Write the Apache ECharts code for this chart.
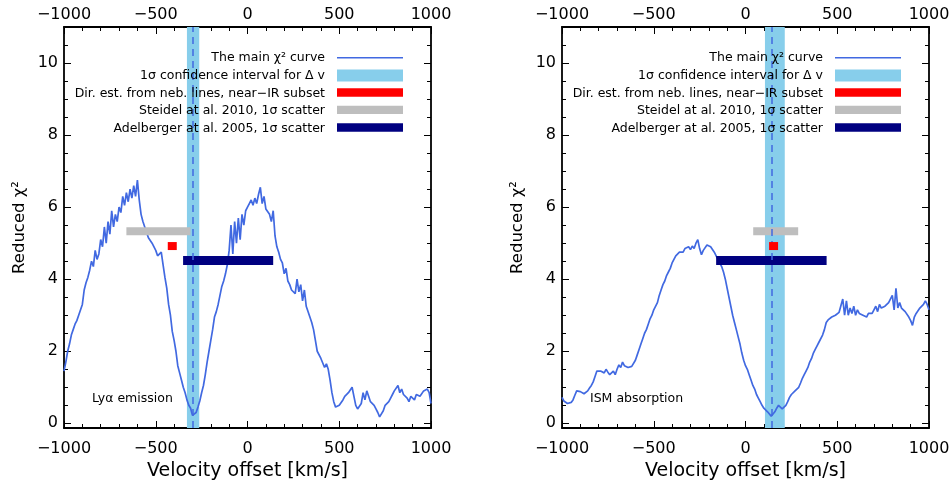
<!DOCTYPE html>
<html><head><meta charset="utf-8">
<script src="https://cdn.jsdelivr.net/npm/echarts@6/dist/echarts.min.js"></script>
<style>html,body{margin:0;padding:0;background:#fff}#c{width:952px;height:481px}</style>
</head><body><div id="c"></div>
<script>
// Velocity grid (km/s)
const velocity = [
-1000,-990,-980,-970,-960,-950,-940,-930,-920,-910,
-900,-890,-880,-870,-860,-850,-840,-830,-820,-810,
-800,-790,-780,-770,-760,-750,-740,-730,-720,-710,
-700,-690,-680,-670,-660,-650,-640,-630,-620,-610,
-600,-590,-580,-570,-560,-550,-540,-530,-520,-510,
-500,-490,-480,-470,-460,-450,-440,-430,-420,-410,
-400,-390,-380,-370,-360,-350,-340,-330,-320,-310,
-300,-290,-280,-270,-260,-250,-240,-230,-220,-210,
-200,-190,-180,-170,-160,-150,-140,-130,-120,-110,
-100,-90,-80,-70,-60,-50,-40,-30,-20,-10,
0,10,20,30,40,50,60,70,80,90,
100,110,120,130,140,150,160,170,180,190,
200,210,220,230,240,250,260,270,280,290,
300,310,320,330,340,350,360,370,380,390,
400,410,420,430,440,450,460,470,480,490,
500,510,520,530,540,550,560,570,580,590,
600,610,620,630,640,650,660,670,680,690,
700,710,720,730,740,750,760,770,780,790,
800,810,820,830,840,850,860,870,880,890,
900,910,920,930,940,950,960,970,980,990,
1000];
// Reduced chi^2, Lya emission
const lyaChi2 = [
1.45,1.7,2.0,2.2,2.45,2.6,2.75,2.85,3.0,3.05,
3.3,3.7,3.9,4.05,4.25,4.5,4.35,4.8,4.55,4.7,
5.1,4.9,5.45,5.0,5.6,5.25,5.9,5.45,5.8,5.6,
6.0,5.85,6.3,6.05,6.4,6.15,6.5,6.25,6.6,6.3,
6.75,6.2,5.8,5.6,5.45,5.3,5.15,5.1,5.0,5.05,
4.8,4.65,4.7,4.75,4.4,4.05,3.75,3.3,3.0,2.55,
2.3,2.0,1.6,1.4,1.2,1.0,0.85,0.65,0.5,0.42,
0.22,0.2,0.3,0.45,0.62,0.85,1.05,1.35,1.7,2.0,
2.3,2.6,2.95,3.1,3.3,3.55,3.8,3.95,4.15,4.4,
4.8,5.5,4.7,5.6,5.0,5.7,5.1,5.8,5.5,5.9,
6.0,6.1,6.2,6.05,6.25,6.1,6.35,6.55,6.1,6.3,
5.95,6.0,5.8,5.6,5.9,5.2,4.9,4.75,4.55,4.45,
4.15,4.3,3.95,3.85,3.7,3.75,3.6,4.0,3.65,3.85,
3.4,3.7,3.25,3.3,2.95,2.8,2.6,2.3,2.0,2.05,
1.8,1.75,1.55,1.65,1.5,1.2,0.85,0.6,0.45,0.42,
0.5,0.55,0.65,0.75,0.8,0.85,0.9,1.0,0.75,0.5,
0.4,0.45,0.55,0.85,0.65,0.9,0.75,0.6,0.55,0.5,
0.4,0.3,0.18,0.22,0.35,0.5,0.55,0.6,0.7,0.8,
0.9,0.85,1.05,0.85,0.95,0.8,0.75,0.7,0.6,0.75,
0.7,0.65,0.8,0.85,0.75,0.8,0.9,0.85,0.95,0.85,
0.55];
// Reduced chi^2, ISM absorption
const ismChi2 = [
0.72,0.62,0.58,0.55,0.56,0.58,0.65,0.78,0.9,0.95,
0.88,0.9,0.82,0.78,0.9,0.98,1.05,1.15,1.3,1.45,
1.4,1.45,1.5,1.4,1.5,1.42,1.35,1.38,1.45,1.35,
1.5,1.62,1.55,1.7,1.6,1.58,1.55,1.6,1.58,1.62,
1.75,1.9,2.05,2.2,2.35,2.5,2.6,2.75,2.9,3.0,
3.15,3.2,3.35,3.55,3.7,3.85,3.95,4.1,4.2,4.3,
4.45,4.55,4.65,4.6,4.75,4.8,4.75,4.85,4.8,4.9,
4.82,4.92,4.85,5.0,5.1,4.85,4.68,4.8,4.85,4.95,
5.0,4.9,4.85,4.75,4.65,4.55,4.6,4.35,4.2,4.0,
3.75,3.5,3.25,3.0,2.8,2.6,2.4,2.2,1.95,1.75,
1.6,1.5,1.35,1.2,1.05,0.95,0.8,0.7,0.6,0.5,
0.42,0.38,0.32,0.27,0.2,0.25,0.32,0.42,0.5,0.45,
0.4,0.42,0.5,0.6,0.72,0.8,0.85,0.9,0.92,1.0,
1.12,1.25,1.35,1.45,1.55,1.7,1.8,1.95,2.05,2.15,
2.25,2.3,2.45,2.6,2.8,2.87,2.9,2.95,2.92,3.0,
3.02,3.08,3.1,3.45,3.0,3.4,3.0,3.2,3.05,3.25,
3.0,3.15,3.05,3.1,3.0,3.05,2.95,3.05,3.1,3.05,
3.15,3.25,3.1,3.3,3.2,3.15,3.25,3.2,3.35,3.3,
3.55,3.15,3.75,3.2,3.35,3.2,3.15,3.1,3.05,2.95,
2.85,2.72,2.95,3.05,3.1,3.2,3.15,3.3,3.4,3.3,
3.15];

const panelLabels = ['Lyα emission', 'ISM absorption'];
const confBand = [[-330, -263], [106, 214]];       // 1 sigma interval for dv
const bestShift = [-297, 145];                      // dashed line
const nebularEst = [-410, 153];                     // red square
const nebularLevel = 4.92;
const steidelRange = [[-660, -311], [42, 287]];     // grey bar
const steidelLevel = 5.33;
const adelbergerRange = [[-351, 140], [-160, 442]]; // navy bar
const adelbergerLevel = 4.52;

const xTickInterval = 500;
const yMajorTicks = [0, 2, 4, 6, 8, 10];
const yMinorTicks = [0,0.5,1,1.5,2,2.5,3,3.5,4,4.5,5,5.5,6,6.5,7,7.5,8,8.5,9,9.5,10,10.5];
const legendLabels = [
  'The main χ² curve',
  '1σ confidence interval for Δ v',
  'Dir. est. from neb. lines, near−IR subset',
  'Steidel at al. 2010, 1σ scatter',
  'Adelberger at al. 2005, 1σ scatter'
];

const COL_CURVE = '#4169E1', COL_BAND = '#87CEEB', COL_RED = '#FF0000', COL_GREY = '#BEBEBE', COL_NAVY = '#000080';
const FONT = 'DejaVu Sans';
const fmt = v => (v < 0 ? '\u2212' + Math.abs(v) : String(v));

const gridLeft = [64, 562], gridTop = 27, gridW = 367, gridH = 401;
const grids = gridLeft.map(l => ({ left: l, top: gridTop, width: gridW, height: gridH, containLabel: false, outerBoundsMode: 'none' }));

const xAxes = [], yAxes = [], series = [], graphics = [];
const axisLineStyle = { color: '#000', width: 1.8 };
[0, 1].forEach(p => {
  ['bottom', 'top'].forEach(pos => {
    xAxes.push({
      gridIndex: p, type: 'value', position: pos, min: -1000, max: 1000, interval: xTickInterval,
      name: pos === 'bottom' ? 'Velocity offset [km/s]' : '', nameLocation: 'middle', nameGap: 31,
      nameTextStyle: { fontFamily: FONT, fontSize: 19, color: '#000' },
      axisLine: { show: true, onZero: false, lineStyle: axisLineStyle },
      axisTick: { show: true, inside: true, length: 7, lineStyle: { color: '#000', width: 1 } },
      minorTick: { show: true, splitNumber: 5, length: 4, lineStyle: { color: '#000', width: 1 } },
      axisLabel: { show: true, margin: pos === 'bottom' ? 13 : 4, fontFamily: FONT, fontSize: 16, color: '#000', formatter: fmt },
      splitLine: { show: false }
    });
  });
  ['left', 'right'].forEach(pos => {
    yAxes.push({
      gridIndex: p, type: 'value', position: pos, min: -0.13, max: 11,
      name: pos === 'left' ? 'Reduced χ²' : '', nameLocation: 'middle', nameGap: 36, nameRotate: 90,
      nameTextStyle: { fontFamily: FONT, fontSize: 16.5, color: '#000' },
      axisLine: { show: true, onZero: false, lineStyle: axisLineStyle },
      axisTick: { show: true, inside: true, length: 7, customValues: yMajorTicks, lineStyle: { color: '#000', width: 1 } },
      axisLabel: { show: pos === 'left', margin: 6, customValues: yMajorTicks, fontFamily: FONT, fontSize: 16, color: '#000' },
      splitLine: { show: false }
    });
    yAxes.push({
      gridIndex: p, type: 'value', position: pos, min: -0.13, max: 11,
      axisLine: { show: false, onZero: false },
      axisTick: { show: true, inside: true, length: 4, customValues: yMinorTicks, lineStyle: { color: '#000', width: 1 } },
      axisLabel: { show: false, customValues: yMinorTicks },
      splitLine: { show: false }
    });
  });
  const xi = p * 2, yi = p * 4;
  series.push({
    type: 'line', xAxisIndex: xi, yAxisIndex: yi, data: [], z: 1, silent: true,
    markArea: { silent: true, itemStyle: { color: COL_BAND }, data: [[{ xAxis: confBand[p][0] }, { xAxis: confBand[p][1] }]] },
    markLine: { silent: true, symbol: 'none', label: { show: false },
      lineStyle: { color: COL_CURVE, type: [7, 5], width: 1.5 }, data: [{ xAxis: bestShift[p] }] }
  });
  const ys = p === 0 ? lyaChi2 : ismChi2;
  series.push({
    type: 'line', xAxisIndex: xi, yAxisIndex: yi, z: 2, showSymbol: false, symbol: 'none',
    data: velocity.map((v, i) => [v, ys[i]]),
    lineStyle: { color: COL_CURVE, width: 1.7 }
  });
  series.push({
    type: 'line', xAxisIndex: xi, yAxisIndex: yi, z: 4, symbol: 'none',
    data: [[steidelRange[p][0], steidelLevel], [steidelRange[p][1], steidelLevel]],
    lineStyle: { color: COL_GREY, width: 8, cap: 'butt' }
  });
  series.push({
    type: 'line', xAxisIndex: xi, yAxisIndex: yi, z: 4, symbol: 'none',
    data: [[adelbergerRange[p][0], adelbergerLevel], [adelbergerRange[p][1], adelbergerLevel]],
    lineStyle: { color: COL_NAVY, width: 9, cap: 'butt' }
  });
  series.push({
    type: 'scatter', xAxisIndex: xi, yAxisIndex: yi, z: 5, symbol: 'rect', symbolSize: [9, 8],
    data: [[nebularEst[p], nebularLevel]], itemStyle: { color: COL_RED, opacity: 1 }
  });

  // legend (drawn as graphics)
  const off = gridLeft[p] - 64;
  const rowY = [58, 76, 93.5, 111, 128.5];
  legendLabels.forEach((t, k) => {
    graphics.push({ type: 'text', x: 325 + off, y: rowY[k], z: 10,
      style: { text: t, fill: '#000', font: '12.5px ' + FONT, textAlign: 'right', textVerticalAlign: 'middle' } });
  });
  graphics.push({ type: 'rect', z: 10, shape: { x: 337 + off, y: 57, width: 66, height: 1.6 }, style: { fill: COL_CURVE } });
  graphics.push({ type: 'rect', z: 10, shape: { x: 337 + off, y: 69.5, width: 66, height: 12 }, style: { fill: COL_BAND } });
  graphics.push({ type: 'rect', z: 10, shape: { x: 337 + off, y: 88.3, width: 66, height: 8.4 }, style: { fill: COL_RED } });
  graphics.push({ type: 'rect', z: 10, shape: { x: 337 + off, y: 105.7, width: 66, height: 8.3 }, style: { fill: COL_GREY } });
  graphics.push({ type: 'rect', z: 10, shape: { x: 337 + off, y: 123.3, width: 66, height: 8.4 }, style: { fill: COL_NAVY } });
  graphics.push({ type: 'text', x: (p === 0 ? 92 : 590), y: 399, z: 10,
    style: { text: panelLabels[p], fill: '#000', font: '12.5px ' + FONT, textAlign: 'left', textVerticalAlign: 'middle' } });
});

const chart = echarts.init(document.getElementById('c'), null, { renderer: 'canvas' });
chart.setOption({
  animation: false,
  backgroundColor: '#fff',
  grid: grids,
  xAxis: xAxes,
  yAxis: yAxes,
  series: series,
  graphic: graphics
});
</script>
</body></html>
